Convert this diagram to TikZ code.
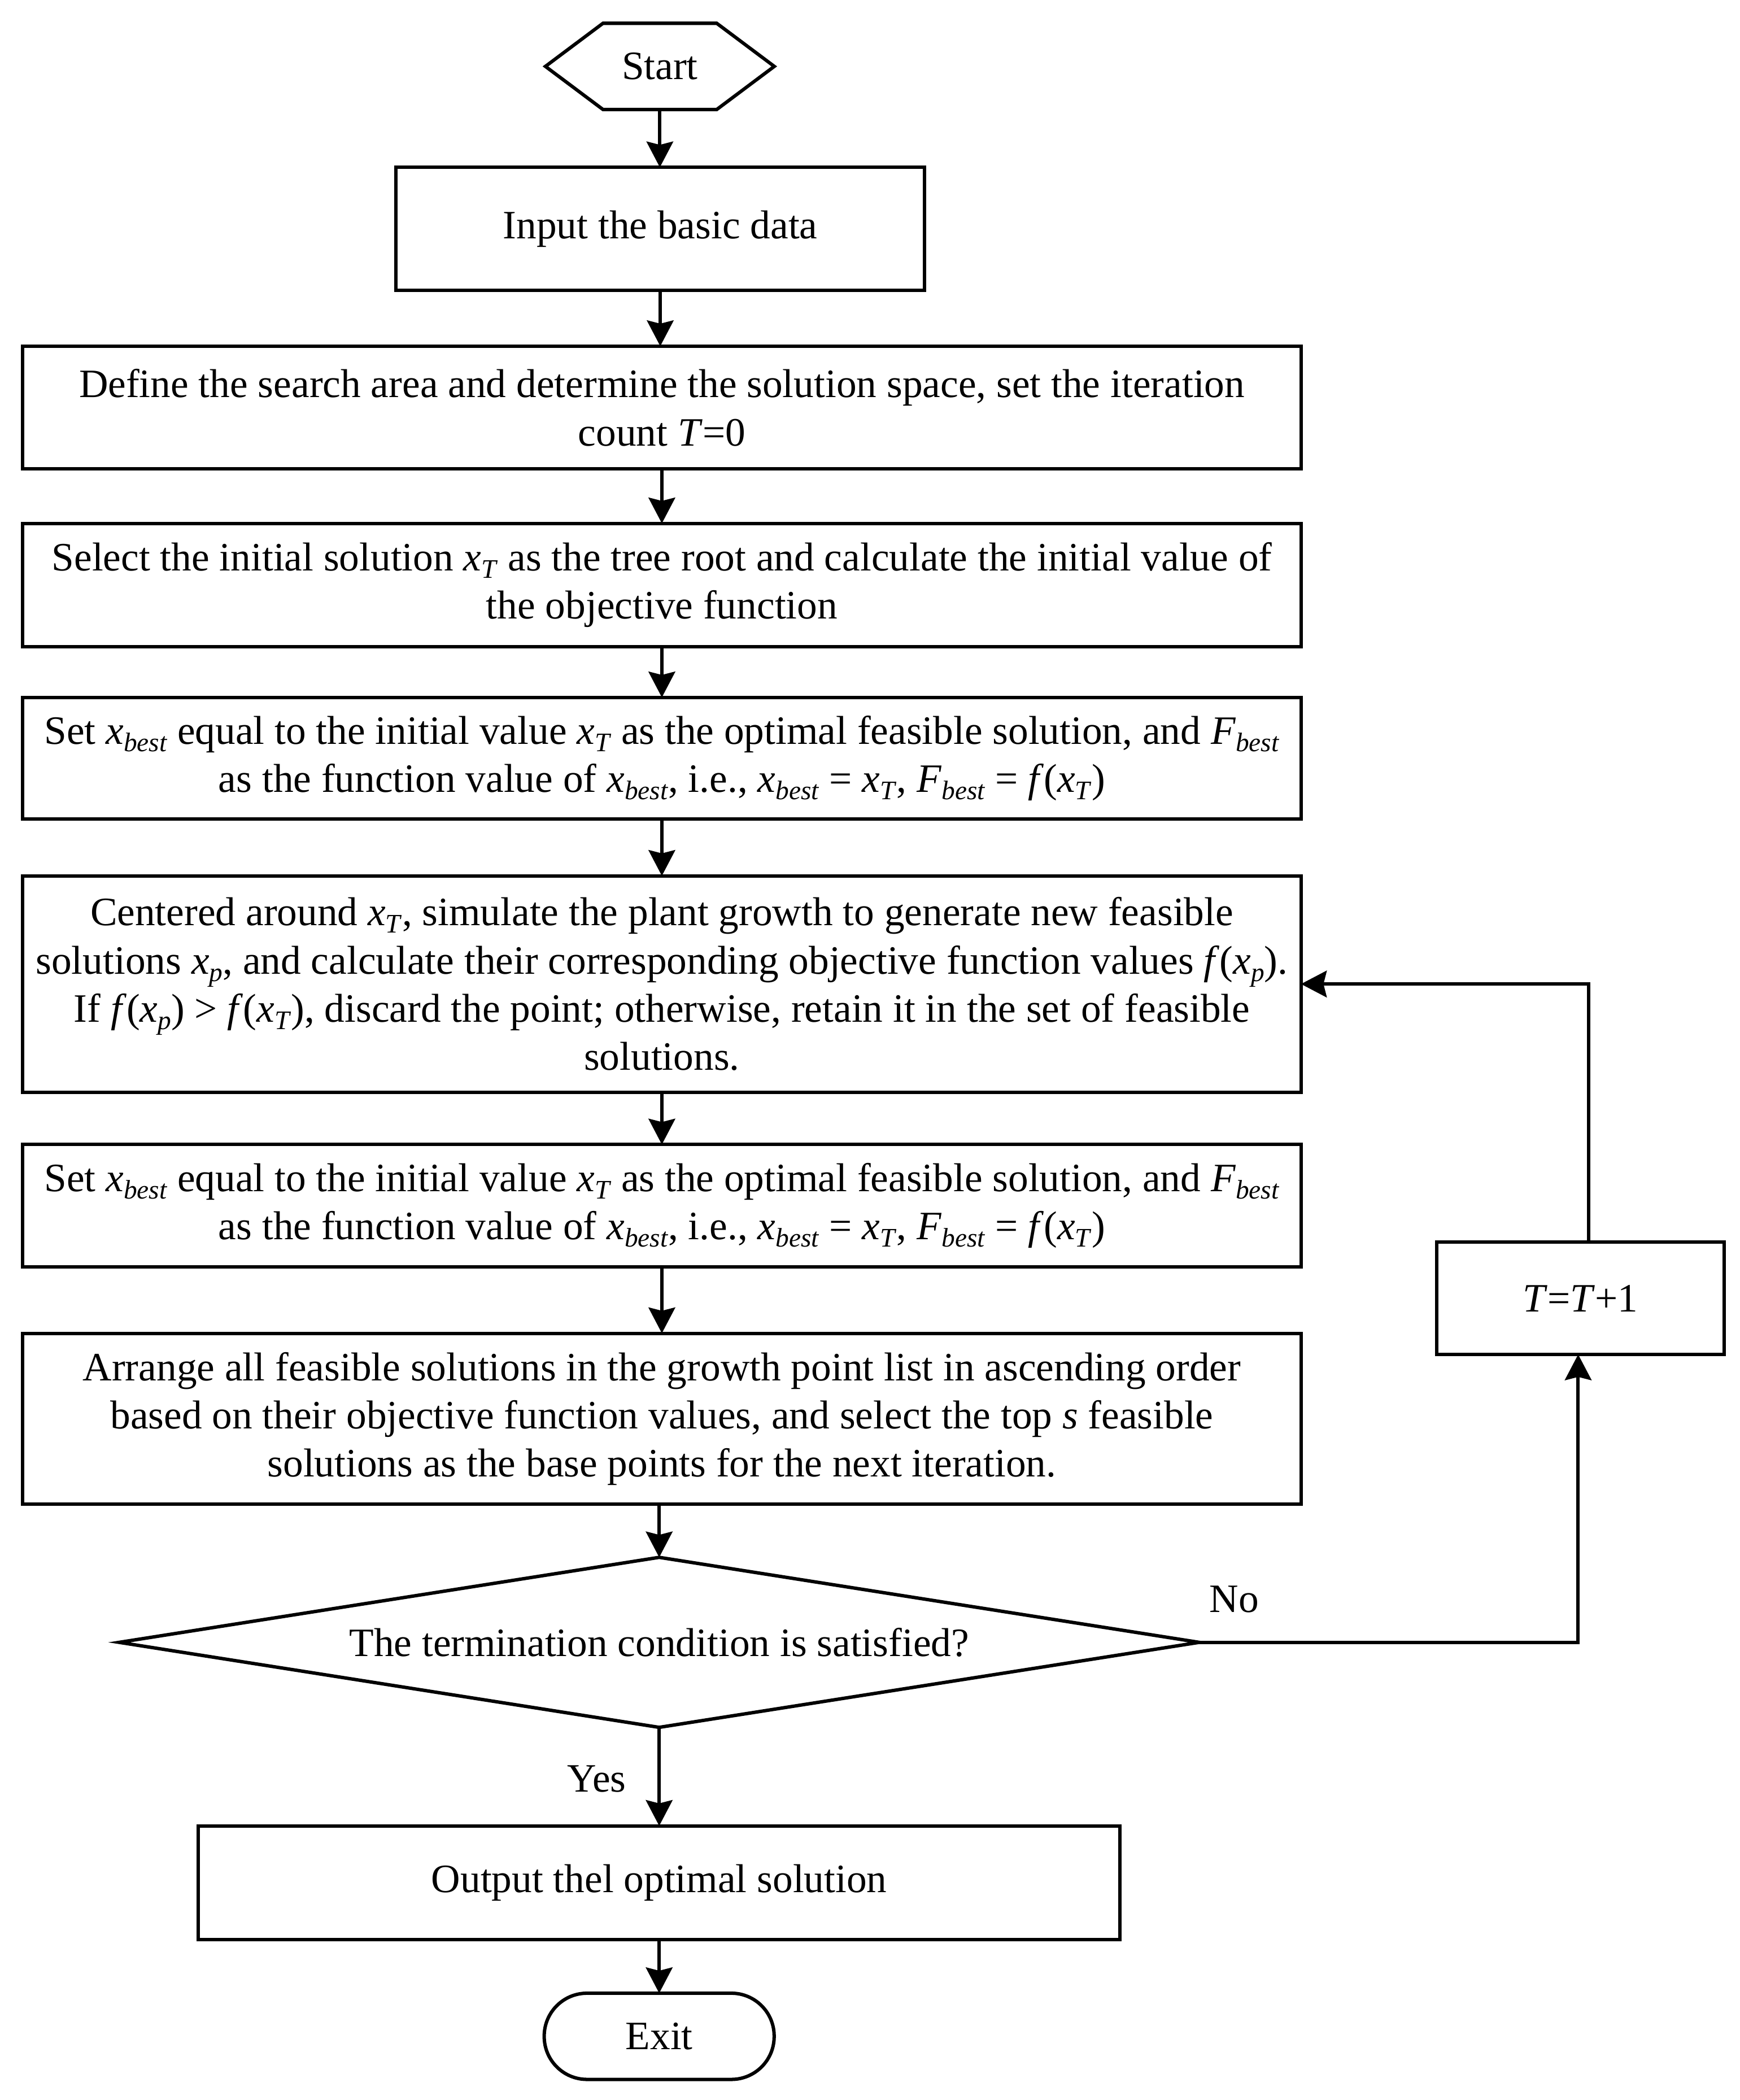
\documentclass[tikz,border=0pt]{standalone}
\usepackage{fontspec}
\setmainfont{Liberation Serif}
\usetikzlibrary{arrows.meta,shapes.geometric}
\newcommand{\xs}[2]{\textit{#1}\raisebox{-0.4ex}{\fontsize{10}{10}\selectfont\textit{#2}}}
\begin{document}
\begin{tikzpicture}[x=0.5pt,y=-0.5pt,
  every node/.style={font=\fontsize{15.05}{18}\selectfont, inner sep=0pt, outer sep=0pt},
  box/.style={draw, line width=1.27pt, rectangle, align=center},
  lab/.style={align=center},
  arr/.style={line width=1.27pt, -{Stealth[length=9.6pt,width=9.9pt,inset=1.2pt]}},
  ln/.style={line width=1.27pt}]
\useasboundingbox (0,0) rectangle (1300,1568.8);
\fill[white] (0,0) rectangle (1300,1568.8);

% Start hexagon
\node[lab, minimum width=85.5pt, minimum height=32.2pt] (start) at (493,49.6) {Start};
\draw[ln, line join=miter] (start.west) -- ([xshift=21.5pt]start.north west) -- ([xshift=-21.5pt]start.north east) -- (start.east) -- ([xshift=-21.5pt]start.south east) -- ([xshift=21.5pt]start.south west) -- cycle;

\node[box, minimum width=197.5pt, minimum height=46pt] (input) at (493.3,171) {Input the basic data};

\node[box, minimum width=477.5pt, minimum height=45.9pt] (define) at (494.5,304.5)
 {Define the search area and determine the solution space, set the iteration\\count \textit{T}=0};

\node[box, minimum width=477.5pt, minimum height=46pt] (select) at (494.5,437)
 {Select the initial solution \xs{x}{T} as the tree root and calculate the initial value of\\the objective function};

\node[box, minimum width=477.5pt, minimum height=45.5pt] (set1) at (494.5,566.5)
 {Set \xs{x}{best} equal to the initial value \xs{x}{T} as the optimal feasible solution, and \xs{F}{best}\\as the function value of \xs{x}{best}, i.e., \xs{x}{best} = \xs{x}{T}, \xs{F}{best} = \textit{f}(\xs{x}{T})};

\node[box, minimum width=477.5pt, minimum height=80.8pt] (cent) at (494.5,735.1)
 {Centered around \xs{x}{T}, simulate the plant growth to generate new feasible\\solutions \xs{x}{p}, and calculate their corresponding objective function values \textit{f}(\xs{x}{p}).\\If \textit{f}(\xs{x}{p}) > \textit{f}(\xs{x}{T}), discard the point; otherwise, retain it in the set of feasible\\solutions.};

\node[box, minimum width=477.5pt, minimum height=45.7pt] (set2) at (494.5,900.7)
 {Set \xs{x}{best} equal to the initial value \xs{x}{T} as the optimal feasible solution, and \xs{F}{best}\\as the function value of \xs{x}{best}, i.e., \xs{x}{best} = \xs{x}{T}, \xs{F}{best} = \textit{f}(\xs{x}{T})};

\node[box, minimum width=477.5pt, minimum height=63.9pt] (arrange) at (494.5,1059.9)
 {Arrange all feasible solutions in the growth point list in ascending order\\based on their objective function values, and select the top \textit{s} feasible\\solutions as the base points for the next iteration.};

\node[draw, line width=1.27pt, diamond, aspect=6.35, minimum width=403.5pt, minimum height=63.5pt] (dia) at (492.5,1226.9)
 {The termination condition is satisfied?};

\node[box, minimum width=344.2pt, minimum height=42.5pt] (out) at (492.5,1406.5) {Output thel optimal solution};

\node[box, rounded corners=16pt, minimum width=85.9pt, minimum height=32.2pt] (exit) at (492.5,1521.2) {Exit};

\node[box, minimum width=107.3pt, minimum height=41.9pt] (tbox) at (1180.7,969.9) {\textit{T}=\textit{T}+1};

\node[lab] (no) at (922,1194.8) {No};
\node[lab] (yes) at (445.8,1328.9) {Yes};

% main chain
\draw[arr] (start.south) -- (start.south |- input.north);
\draw[arr] (input.south) -- (input.south |- define.north);
\draw[arr] (define.south) -- (define.south |- select.north);
\draw[arr] (select.south) -- (select.south |- set1.north);
\draw[arr] (set1.south) -- (set1.south |- cent.north);
\draw[arr] (cent.south) -- (cent.south |- set2.north);
\draw[arr] (set2.south) -- (set2.south |- arrange.north);
\draw[arr] (arrange.south -| dia.north) -- (dia.north);
\draw[arr] (dia.south) -- (dia.south |- out.north);
\draw[arr] (out.south) -- (out.south |- exit.north);

% loop
\coordinate (lb) at ([xshift=-0.8pt]tbox.south);
\coordinate (lt) at ([xshift=3.2pt]tbox.north);
\draw[arr] (dia.east) -| (lb);
\draw[arr] (lt) |- (cent.east);
\end{tikzpicture}
\end{document}
